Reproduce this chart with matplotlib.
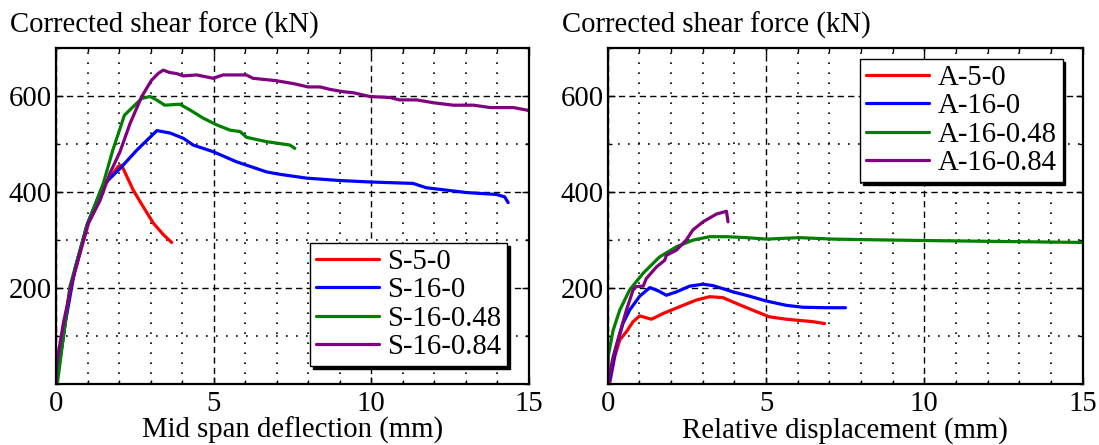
import matplotlib
matplotlib.use("Agg")
import matplotlib.pyplot as plt
from matplotlib.ticker import MultipleLocator

plt.rcParams["font.family"] = ["Liberation Serif", "DejaVu Serif"]
plt.rcParams["font.size"] = 20.7

# ---- left panel: mid span deflection (mm) vs corrected shear force (kN)
s50_x = [0.0, 0.02, 0.44, 0.97, 1.5, 1.98, 2.08, 2.45, 2.77, 3.09, 3.41, 3.67]
s50_y = [0, 5, 196, 328, 411, 454, 456, 404, 369, 335, 311, 295]

s160_x = [0.0, 0.03, 0.3, 0.6, 1.0, 1.5, 2.03, 2.56, 3.2, 3.62, 4.04, 4.35, 4.99,
          5.73, 6.68, 7.1, 7.95, 9.01, 9.96, 11.33, 11.75, 12.39, 13.02, 13.97,
          14.24, 14.35]
s160_y = [0, 10, 130, 240, 335, 415, 449, 487, 528, 523, 512, 498, 484,
          463, 442, 437, 429, 424, 421, 418, 409, 404, 399, 395,
          390, 378]

s1648_x = [0.0, 0.05, 0.44, 0.97, 1.5, 1.8, 2.17, 2.45, 2.72, 2.98, 3.19, 3.45,
           3.93, 4.25, 4.67, 5.1, 5.52, 5.84, 6.05, 6.68, 7.42, 7.58]
s1648_y = [0, 5, 203, 328, 418, 487, 560, 578, 595, 599, 592, 581,
           583, 571, 554, 540, 529, 526, 514, 505, 498, 491]

s1684_x = [0.0, 0.02, 0.23, 0.5, 0.76, 1.03, 1.4, 1.71, 2.03, 2.35, 2.72, 3.03,
           3.24, 3.4, 3.61, 3.82, 4.04, 4.46, 4.99, 5.3, 6.04, 6.25, 6.99, 7.53,
           8.0, 8.38, 8.69, 9.12, 9.43, 9.96, 10.6, 10.9, 11.45, 11.98, 12.61,
           13.25, 13.78, 14.52, 15.0]
s1684_y = [0, 43, 126, 210, 272, 335, 383, 439, 484, 543, 599, 633,
           647, 654, 649, 647, 642, 644, 637, 644, 644, 637, 632, 626,
           619, 619, 614, 609, 607, 599, 597, 592, 592, 586, 581,
           581, 576, 576, 570]

# ---- right panel: relative displacement (mm) vs corrected shear force (kN)
a50_x = [0.06, 0.22, 0.38, 0.59, 0.8, 1.01, 1.38, 1.75, 2.27, 2.8, 3.22, 3.64,
         4.17, 4.69, 5.11, 5.64, 6.48, 6.85]
a50_y = [1, 57, 92, 109, 130, 142, 135, 147, 161, 175, 182, 180,
         165, 151, 140, 135, 130, 126]

a160_x = [0.06, 0.27, 0.48, 0.69, 1.01, 1.33, 1.6, 1.85, 2.17, 2.59, 3.01, 3.33,
          3.96, 4.48, 5.01, 5.64, 6.17, 6.9, 7.51]
a160_y = [8, 78, 126, 154, 183, 201, 194, 185, 192, 204, 208, 205,
          192, 183, 173, 164, 160, 159, 159]

a1648_x = [0.0, 0.02, 0.17, 0.38, 0.69, 1.12, 1.64, 2.17, 2.7, 3.22, 3.75, 4.38,
           5.01, 6.06, 7.11, 7.95, 10.0, 12.5, 15.0]
a1648_y = [0, 60, 112, 154, 196, 231, 265, 286, 300, 307, 307, 305,
           302, 305, 302, 301, 299, 297, 295]

a1684_x = [0.0, 0.17, 0.38, 0.59, 0.8, 0.9, 1.12, 1.22, 1.54, 1.8, 1.85, 2.17,
           2.48, 2.69, 3.01, 3.43, 3.75, 3.8]
a1684_y = [0, 57, 106, 154, 196, 203, 204, 220, 244, 258, 268, 279,
           300, 321, 338, 354, 360, 338]

left_series = [("S-5-0", s50_x, s50_y), ("S-16-0", s160_x, s160_y),
               ("S-16-0.48", s1648_x, s1648_y), ("S-16-0.84", s1684_x, s1684_y)]
right_series = [("A-5-0", a50_x, a50_y), ("A-16-0", a160_x, a160_y),
                ("A-16-0.48", a1648_x, a1648_y), ("A-16-0.84", a1684_x, a1684_y)]
colors = ["#ff0000", "#0000ff", "#008000", "#800080"]

x_ticks = [0, 5, 10, 15]
y_ticks = [200, 400, 600]

fig = plt.figure(figsize=(10.99, 4.45), dpi=100)
ax1 = fig.add_axes([0.051, 0.137, 0.430, 0.755])
ax2 = fig.add_axes([0.553, 0.137, 0.432, 0.755])


def style_axes(ax, xlabel):
    ax.set_xlim(0, 15)
    ax.set_ylim(0, 700)
    ax.set_xticks(x_ticks)
    ax.set_yticks(y_ticks)
    ax.xaxis.set_minor_locator(MultipleLocator(1))
    ax.yaxis.set_minor_locator(MultipleLocator(100))
    ax.grid(which="major", color="k", linestyle=(0, (4.5, 3)), linewidth=1.0)
    ax.grid(which="minor", color="k", linestyle=(0, (1, 5)), linewidth=1.2)
    ax.tick_params(which="both", direction="in", top=True, right=True,
                   color="k", width=1)
    ax.tick_params(which="major", length=5, pad=5)
    ax.tick_params(which="minor", length=3)
    ax.tick_params(axis="y", pad=3)
    for sp in ax.spines.values():
        sp.set_linewidth(1.6)
        sp.set_zorder(5)
    ax.set_xlabel(xlabel, labelpad=0)


for ax, series in [(ax1, left_series), (ax2, right_series)]:
    for (name, xs, ys), c in zip(series, colors):
        ax.plot(xs, ys, color=c, linewidth=2.3, label=name,
                solid_capstyle="round")

style_axes(ax1, "Mid span deflection (mm)")
style_axes(ax2, "Relative displacement (mm)")

leg_kw = dict(fancybox=False, edgecolor="k", framealpha=1, fontsize=20.7,
              handlelength=2.2, handletextpad=0.3, labelspacing=0.08,
              borderpad=0.2, borderaxespad=0,
              shadow={"color": "k", "alpha": 1})
l1 = ax1.legend(loc="upper left", bbox_to_anchor=(0.537, 0.42), **leg_kw)
l2 = ax2.legend(loc="upper left", bbox_to_anchor=(0.532, 0.967), **leg_kw)
for leg in (l1, l2):
    leg.get_frame().set_linewidth(1.0)
    leg.set_zorder(10)

fig.text(10 / 1099, 1 - 33 / 445, "Corrected shear force (kN)", va="baseline")
fig.text(562 / 1099, 1 - 33 / 445, "Corrected shear force (kN)", va="baseline")

fig.savefig("out.png", dpi=100)
